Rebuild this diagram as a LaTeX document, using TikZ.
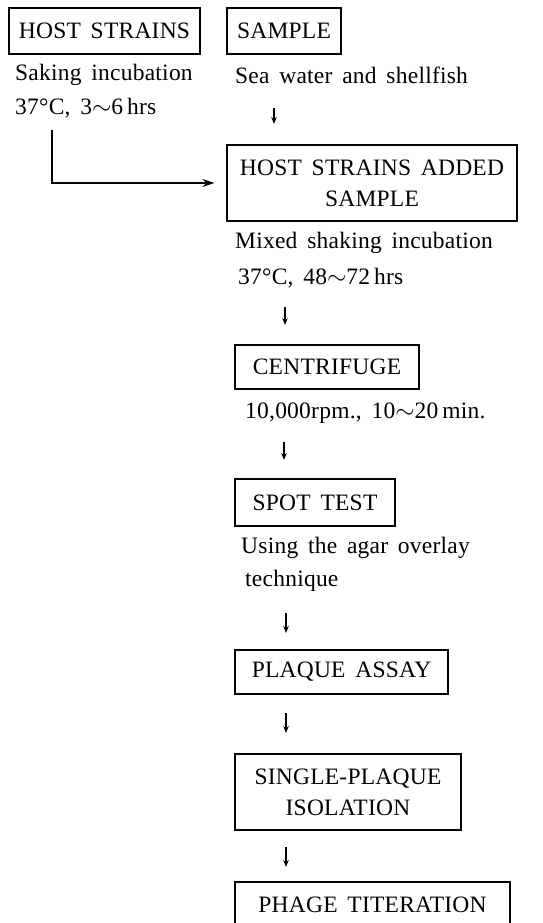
\documentclass[tikz,border=0pt]{standalone}
\usepackage{fontspec}
\setmainfont{Liberation Serif}[LetterSpace=1,WordSpace=1.6]
\usetikzlibrary{arrows.meta}

\begin{document}
\begin{tikzpicture}[x=1pt,y=-1pt]
        \tikzset{
          box/.style={draw,line width=1.3pt,inner sep=0pt,align=center,font=\fontsize{23.5}{31}\selectfont},
          note/.style={anchor=west,inner sep=0pt,font=\fontsize{23.5}{27}\selectfont},
          arr/.style={line width=1.2pt,-{Stealth[length=7pt,width=5.5pt]}},
          bigarr/.style={line width=1.3pt,-{Stealth[length=12pt,width=8pt]}}
        }
        \useasboundingbox (0,0) rectangle (543,923);

        \node[box,minimum width=191pt,minimum height=46pt] (hs) at (104.5,31) {HOST STRAINS};
        \node[box,minimum width=114pt,minimum height=46pt] (sample) at (284,31) {SAMPLE};
        \node[note] (hsnote1) at (15,75) {Saking incubation};
        \node[note] (hsnote2) at (15,108) {37°C,\ 3$\sim$6\,hrs};
        \node[note] (samplenote) at (235,75) {Sea water and shellfish};

        \node[box,minimum width=290pt,minimum height=76pt] (added) at (372,183) {HOST STRAINS ADDED\\SAMPLE};
        \node[note] (addednote1) at (235,243) {Mixed shaking incubation};
        \node[note] (addednote2) at (238,278) {37°C,\ 48$\sim$72\,hrs};

        \node[box,minimum width=184pt,minimum height=44pt] (centri) at (327,367) {CENTRIFUGE};
        \node[note] (centrinote) at (245,413) {10,000rpm.,\ 10$\sim$20\,min.};

        \node[box,minimum width=160pt,minimum height=47pt] (spot) at (315,502.5) {SPOT TEST};
        \node[note] (spotnote1) at (241,548) {Using the agar overlay};
        \node[note] (spotnote2) at (245,581) {technique};

        \node[box,minimum width=213pt,minimum height=44pt] (plaque) at (341.5,672) {PLAQUE ASSAY};
        \node[box,minimum width=226pt,minimum height=76pt] (single) at (348,792) {SINGLE-PLAQUE\\ISOLATION};
        \node[box,minimum width=275pt,minimum height=46pt] (titer) at (372.5,905) {PHAGE TITERATION};

        % arrow ends
        \coordinate (a1) at (274,108); \coordinate (b1) at (274,124);
        \coordinate (a2) at (285,307); \coordinate (b2) at (285,325);
        \coordinate (a3) at (284,442); \coordinate (b3) at (284,460);
        \coordinate (a4) at (286,613); \coordinate (b4) at (286,633);
        \coordinate (a5) at (286,713); \coordinate (b5) at (286,733);
        \coordinate (a6) at (286,847); \coordinate (b6) at (286,867);
        \coordinate (bend) at (52,130);

        \foreach \i in {1,...,6}
          \draw[arr] (a\i) -- (b\i);
        \draw[bigarr] (bend) |- ([xshift=-12pt]added.west);
    \end{tikzpicture}
\end{document}
